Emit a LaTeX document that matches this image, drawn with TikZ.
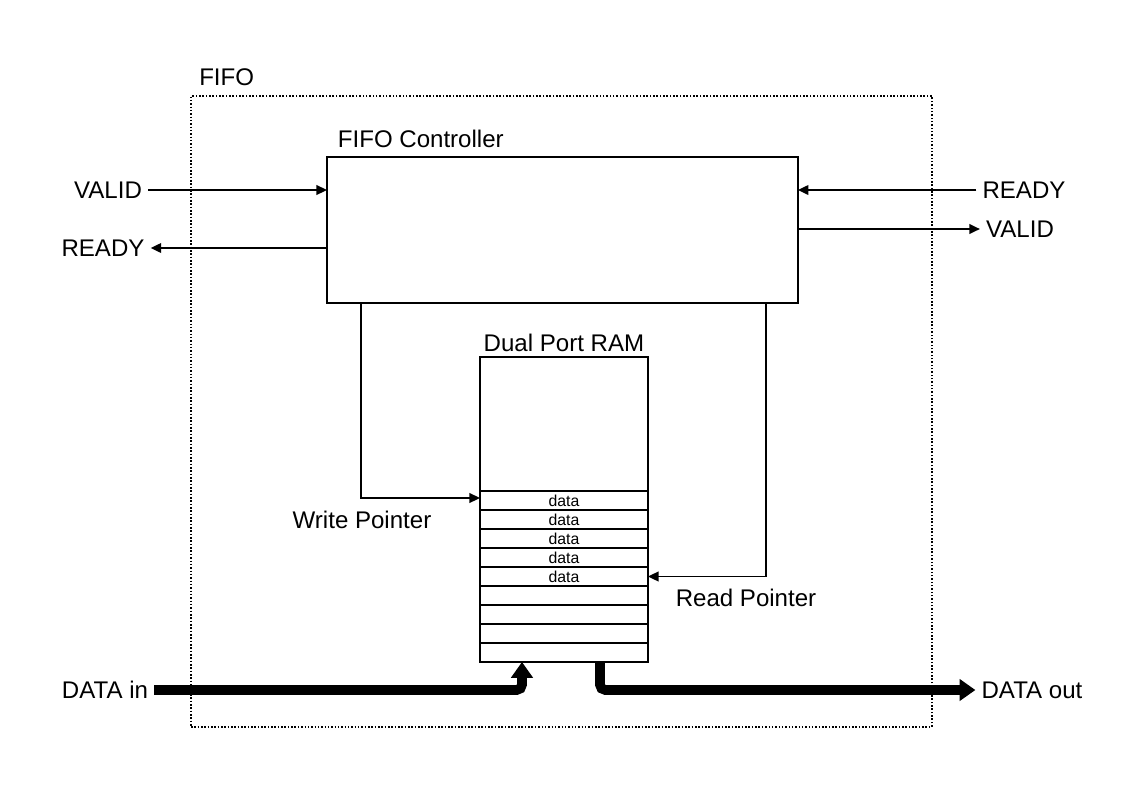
\documentclass[tikz,border=0pt]{standalone}
\usepackage{fontspec}
\setmainfont{Liberation Sans}
\usetikzlibrary{positioning, arrows.meta}
\tikzset{
    >={Triangle[length=6pt,width=5.5pt]},
    every node/.style={font=\fontsize{13.7}{16}\selectfont},
    block/.style={draw, line width=1pt, outer sep=0pt, inner sep=0pt},
    cell/.style={block, minimum width=3.36cm, minimum height=0.38cm,
        font=\fontsize{9}{10}\selectfont},
    sig/.style={->, line width=1pt},
    bus/.style={line width=5.5pt, rounded corners=3pt,
        -{Triangle[length=9pt,width=12pt]}},
}

\begin{document}
\begin{tikzpicture}[x=0.02cm, y=-0.02cm]
    \useasboundingbox (0,0) rectangle (1134,802);

    % outer box
    \node[draw, densely dotted, line width=0.9pt, outer sep=0pt,
          minimum width=14.82cm, minimum height=12.62cm, anchor=north west]
          (fifo) at (191,96) {};
    \node[above right=5.4pt and 4.5pt of fifo.north west, inner sep=0pt] {FIFO};

    % controller
    \node[block, minimum width=9.42cm, minimum height=2.92cm, anchor=north west]
          (ctrl) at (327,157) {};
    \node[above right=4.8pt and 6pt of ctrl.north west, inner sep=0pt] {FIFO Controller};

    % ram
    \node[block, minimum width=3.36cm, minimum height=6.1cm, anchor=north west]
          (ram) at (480,357) {};
    \node[above=2.6pt of ram, inner sep=0pt] {Dual Port RAM};
    \foreach \i in {1,...,5}
        \node[cell, anchor=north west] (row\i) at (480,{491+19*(\i-1)}) {data};
    \foreach \i in {6,...,9}
        \node[cell, anchor=north west] (row\i) at (480,{491+19*(\i-1)}) {};

    % handshake signals
    \node (vin)  at (108,190)  {VALID};
    \node (rout) at (103,248)  {READY};
    \node (rin)  at (1024,190) {READY};
    \node (vout) at (1020,229) {VALID};
    \draw[sig] (vin.east) -- (vin -| ctrl.west);
    \draw[sig] (rout -| ctrl.west) -- (rout.east);
    \draw[sig] (rin.west) -- (rin -| ctrl.east);
    \draw[sig] (vout -| ctrl.east) -- (vout.west);

    % pointers
    \draw[sig] ([xshift=0.68cm]ctrl.south west) |- ([yshift=-0.14cm]row1.north west);
    \draw[sig] ([xshift=-0.64cm]ctrl.south east) |- (row5.east);
    \node at (362,520) {Write Pointer};
    \node at (746,598) {Read Pointer};

    % data path
    \node (din)  at (105,690)  {DATA in};
    \node (dout) at (1032,690) {DATA out};
    \draw[bus] (din.east) -| ([xshift=0.84cm]ram.south west);
    \draw[bus] ([xshift=2.4cm]ram.south west) |- (dout.west);
\end{tikzpicture}
\end{document}
